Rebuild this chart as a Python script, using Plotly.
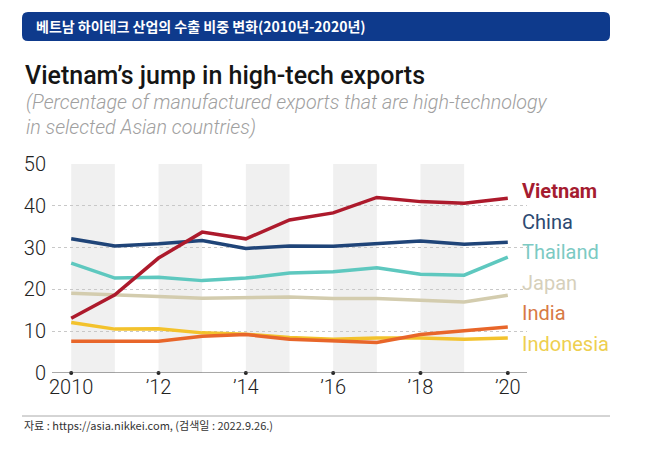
import plotly.graph_objects as go

# data
years = list(range(2010, 2021))
vietnam = [13.1, 18.7, 27.5, 33.7, 32.1, 36.6, 38.3, 42.0, 41.0, 40.6, 41.8]
china = [32.1, 30.4, 30.9, 31.7, 29.8, 30.4, 30.3, 30.9, 31.6, 30.8, 31.3]
thailand = [26.3, 22.7, 22.9, 22.1, 22.7, 23.9, 24.2, 25.2, 23.6, 23.4, 27.7]
japan = [19.1, 18.6, 18.3, 17.9, 18.0, 18.2, 17.8, 17.8, 17.4, 17.0, 18.6]
india = [7.6, 7.7, 7.6, 8.8, 9.2, 8.1, 7.7, 7.3, 9.2, 10.2, 11.0]
indonesia = [12.1, 10.5, 10.6, 9.6, 9.3, 8.5, 8.1, 8.4, 8.4, 8.1, 8.4]

tick_years = [2010, 2012, 2014, 2016, 2018, 2020]
tick_text = ["2010", "’12", "’14", "’16", "’18", "’20"]
band_starts = [2010, 2012, 2014, 2016, 2018]

# label y positions on the right-hand side
label_y = [43.5, 36.2, 28.9, 21.6, 14.3, 7.0]

series = [
    ("Vietnam", vietnam, "#ad1a2c", "#a51c30", True),
    ("China", china, "#1f4478", "#2d4a72", False),
    ("Thailand", thailand, "#5ec8bf", "#7ccac3", False),
    ("Japan", japan, "#d3ccae", "#d6d0bb", False),
    ("India", india, "#e8662a", "#d77a45", False),
    ("Indonesia", indonesia, "#f3c22c", "#eecf50", False),
]

FONT = "Roboto"

# page body has an 8px margin, so the figure is drawn 8px smaller/shifted
OFF = 8
W, H = 660, 439
L, T = 44, 156
pw, ph = 475, 209
R, B = W - L - pw, H - T - ph


def px(x):
    return (x - OFF - L) / pw


def py(y):
    return (H - B - (y - OFF)) / ph


def rounded_rect(x0, y0, x1, y1, r):
    pts = [
        f"M{px(x0 + r)},{py(y0)}",
        f"L{px(x1 - r)},{py(y0)}",
        f"Q{px(x1)},{py(y0)} {px(x1)},{py(y0 + r)}",
        f"L{px(x1)},{py(y1 - r)}",
        f"Q{px(x1)},{py(y1)} {px(x1 - r)},{py(y1)}",
        f"L{px(x0 + r)},{py(y1)}",
        f"Q{px(x0)},{py(y1)} {px(x0)},{py(y1 - r)}",
        f"L{px(x0)},{py(y0 + r)}",
        f"Q{px(x0)},{py(y0)} {px(x0 + r)},{py(y0)}",
        "Z",
    ]
    return " ".join(pts)


fig = go.Figure()

for name, vals, lc, tc, bold in series[::-1]:
    fig.add_trace(go.Scatter(x=years, y=vals, mode="lines", name=name,
                             line=dict(color=lc, width=3.5), showlegend=False))

# tick dots on the axis
fig.add_trace(go.Scatter(x=tick_years, y=[0] * len(tick_years), mode="markers",
                         marker=dict(color="#222", size=4), showlegend=False,
                         cliponaxis=False))

shapes = []
for b in band_starts:
    shapes.append(dict(type="rect", xref="x", yref="y", x0=b, x1=b + 1, y0=0, y1=50,
                       fillcolor="#f0f0f0", line_width=0, layer="below"))
shapes.append(dict(type="line", xref="paper", yref="y", x0=0, x1=1, y0=0, y1=0,
                   line=dict(color="#555", width=1.2)))
shapes.append(dict(type="path", xref="paper", yref="paper",
                   path=rounded_rect(22, 12, 610, 41, 6),
                   fillcolor="#0e3a8c", line_width=0))
shapes.append(dict(type="line", xref="paper", yref="paper",
                   x0=px(22), x1=px(610), y0=py(416), y1=py(416),
                   line=dict(color="#aaaaaa", width=1)))

annotations = []
for (name, vals, lc, tc, bold), ly in zip(series, label_y):
    annotations.append(dict(x=2020.27, y=ly, xref="x", yref="y", xanchor="left",
                            yanchor="middle", showarrow=False,
                            text=f"<b>{name}</b>" if bold else name,
                            font=dict(family=FONT, size=20, color=tc,
                                      weight=700 if bold else 400)))

annotations += [
    dict(x=px(34), y=py(26), xref="paper", yref="paper", xanchor="left", yanchor="middle",
         showarrow=False, text="<b>베트남 하이테크 산업의 수출 비중 변화(2010년-2020년)</b>",
         font=dict(family="Noto Sans CJK KR", size=14, color="white")),
    dict(x=px(23), y=py(75), xref="paper", yref="paper", xanchor="left", yanchor="middle",
         showarrow=False, text="Vietnam’s jump in high-tech exports",
         font=dict(family=FONT, size=25, color="#151515", weight=500)),
    dict(x=px(24), y=py(103), xref="paper", yref="paper", xanchor="left", yanchor="middle",
         showarrow=False, text="(Percentage of manufactured exports that are high-technology",
         font=dict(family=FONT, size=19.7, color="#a0a0a0", style="italic", weight=300)),
    dict(x=px(24), y=py(127), xref="paper", yref="paper", xanchor="left", yanchor="middle",
         showarrow=False, text="in selected Asian countries)",
         font=dict(family=FONT, size=19.7, color="#a0a0a0", style="italic", weight=300)),
    dict(x=px(22), y=py(425), xref="paper", yref="paper", xanchor="left", yanchor="middle",
         showarrow=False, text="자료 : https://asia.nikkei.com, (검색일 : 2022.9.26.)",
         font=dict(family="Noto Sans CJK KR", size=11, color="#333")),
]

fig.update_layout(
    width=W, height=H,
    margin=dict(l=L, r=R, t=T, b=B),
    paper_bgcolor="white", plot_bgcolor="white",
    shapes=shapes, annotations=annotations,
    xaxis=dict(range=[2009.56, 2020.44], tickvals=tick_years, ticktext=tick_text,
               showgrid=False, zeroline=False, showline=False, ticks="",
               automargin=False,
               tickfont=dict(family=FONT, size=20, color="#222", weight=300)),
    yaxis=dict(range=[0, 50], tickvals=[0, 10, 20, 30, 40, 50],
               showgrid=True, gridcolor="#c8c8c8", griddash="dot", gridwidth=1,
               zeroline=False, showline=False, ticks="", automargin=False,
               ticklabelstandoff=5,
               tickfont=dict(family=FONT, size=20, color="#222", weight=300)),
)

fig.write_html("out.html")
